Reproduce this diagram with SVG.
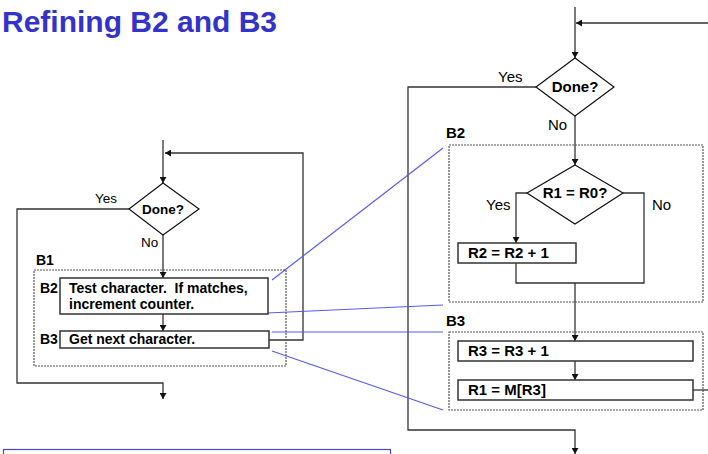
<svg xmlns="http://www.w3.org/2000/svg" width="708" height="454" viewBox="0 0 708 454">
<defs>
<marker id="ah" markerWidth="6" markerHeight="7" refX="6" refY="3.5" orient="auto" markerUnits="userSpaceOnUse">
<path d="M0,0 L6,3.5 L0,7 z" fill="#111"/>
</marker>
</defs>
<style>
.ln{fill:none;stroke:#333;stroke-width:1.3}
.bl{fill:none;stroke:#5a5aee;stroke-width:1.2}
.dot{fill:none;stroke:#555;stroke-width:1.2;stroke-dasharray:2 1}
.box{fill:#fff;stroke:#333;stroke-width:1.5}
.dia{fill:#fff;stroke:#111;stroke-width:1.2}
text{font-family:"Liberation Sans",Arial,sans-serif;fill:#000}
.b{font-weight:bold}
.s14{font-size:14px}
.s13{font-size:13.5px}
.s15{font-size:15px}
</style>
<text x="2" y="32" class="b" style="font-size:30px;fill:#3333cc">Refining B2 and B3</text>

<g id="connectors">
<path class="ln" d="M163,140 V183" marker-end="url(#ah)"/>
<path class="ln" d="M269,340 H303 V153 H165" marker-end="url(#ah)"/>
<path class="ln" d="M129,209 H17 V383 H163 V399" marker-end="url(#ah)"/>
<path class="ln" d="M163,235 V278" marker-end="url(#ah)"/>
<path class="ln" d="M163,314 V331" marker-end="url(#ah)"/>
<path class="ln" d="M575,7 V58" marker-end="url(#ah)"/>
<path class="ln" d="M708,23 H576" marker-end="url(#ah)"/>
<path class="ln" d="M536,87 H408 V430 H575 V454" marker-end="url(#ah)"/>
<path class="ln" d="M575,116 V165" marker-end="url(#ah)"/>
<path class="ln" d="M527,193 H516 V243" marker-end="url(#ah)"/>
<path class="ln" d="M623,193 H644 V283 H516 V263"/>
<path class="ln" d="M575,283 V341" marker-end="url(#ah)"/>
<path class="ln" d="M575,361 V380" marker-end="url(#ah)"/>
<path class="ln" d="M693,390 H708"/>
<path class="bl" d="M272,280 L443,148"/>
<path class="bl" d="M267,313 L443,305"/>
<path class="bl" d="M272,332 L443,332"/>
<path class="bl" d="M272,351 L443,410"/>
</g>

<g id="B1">
<text x="36" y="265" class="b s14">B1</text>
<rect class="dot" x="34" y="270" width="252" height="96"/>
</g>
<g id="left-done">
<polygon class="dia" points="163,183 199,209 163,235 129,209"/>
<text x="163" y="214" class="b s13" text-anchor="middle">Done?</text>
<text x="95" y="203" class="s13">Yes</text>
<text x="141" y="247" class="s13">No</text>
</g>
<g id="left-B2">
<text x="40" y="293" class="b s14">B2</text>
<rect class="box" x="60" y="278" width="208" height="36"/>
<text x="69" y="293" class="b s14" xml:space="preserve">Test character.  If matches,</text>
<text x="69" y="309" class="b s14">increment counter.</text>
</g>
<g id="left-B3">
<text x="40" y="344" class="b s14">B3</text>
<rect class="box" x="60" y="331" width="209" height="17"/>
<text x="69" y="344" class="b s14">Get next character.</text>
</g>

<g id="right-done">
<polygon class="dia" points="575,58 614,87 575,116 536,87"/>
<text x="575" y="92" class="b s15" text-anchor="middle">Done?</text>
<text x="498" y="82" class="s15">Yes</text>
<text x="548" y="130" class="s15">No</text>
</g>
<g id="B2">
<text x="446" y="138" class="b s15">B2</text>
<rect class="dot" x="449" y="145" width="254" height="157"/>
</g>
<g id="cmp">
<polygon class="dia" points="575,165 623,193 575,224 527,193"/>
<text x="575" y="198" class="b s15" text-anchor="middle">R1 = R0?</text>
<text x="486" y="210" class="s15">Yes</text>
<text x="652" y="210" class="s15">No</text>
</g>
<g id="inc-r2">
<rect class="box" x="458" y="243" width="118" height="20"/>
<text x="468" y="258" class="b s15">R2 = R2 + 1</text>
</g>
<g id="B3">
<text x="446" y="326" class="b s15">B3</text>
<rect class="dot" x="449" y="332" width="254" height="78"/>
</g>
<g id="inc-r3">
<rect class="box" x="458" y="341" width="235" height="20"/>
<text x="468" y="356" class="b s15">R3 = R3 + 1</text>
</g>
<g id="load-r1">
<rect class="box" x="458" y="380" width="235" height="20"/>
<text x="468" y="395" class="b s15">R1 = M[R3]</text>
</g>
<rect x="3.5" y="449.5" width="387" height="20" fill="none" stroke="#4848d8" stroke-width="1.2"/>
</svg>
